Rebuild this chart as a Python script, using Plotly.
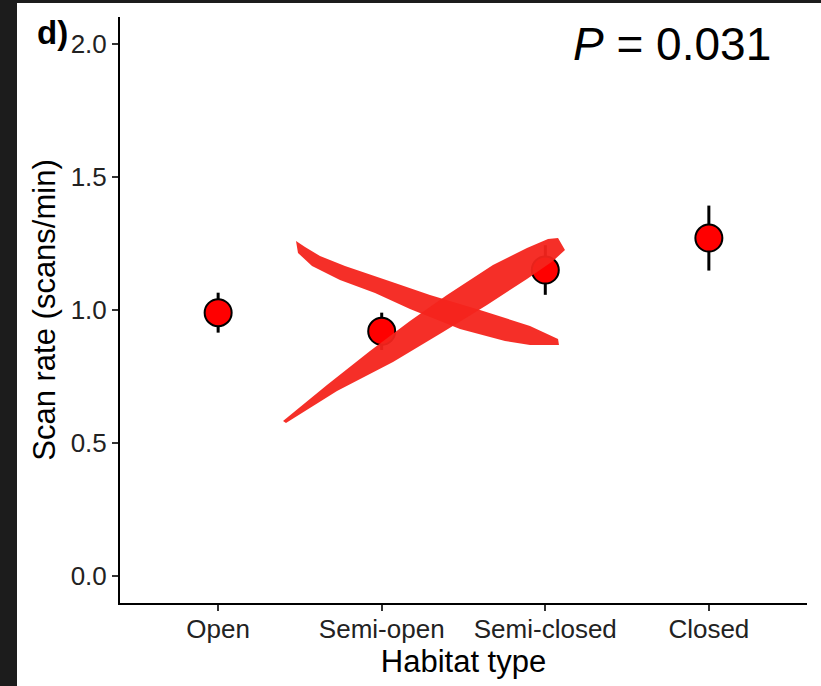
import plotly.graph_objects as go

# ---- data ----
habitats = ["Open", "Semi-open", "Semi-closed", "Closed"]
scan_rate = [0.99, 0.92, 1.15, 1.27]
scan_se = [0.075, 0.07, 0.093, 0.122]
y_ticks = [0.0, 0.5, 1.0, 1.5, 2.0]
p_label = "<i>P</i> = 0.031"
panel_label = "<b>d)</b>"

W, H = 821, 686
ML, MR, MT, MB = 120, 14, 17, 83
PW, PH = W - ML - MR, H - MT - MB


def px(x):
    return (x - ML) / PW


def py(y):
    return (H - MB - y) / PH


def path_from(points):
    s = "M {:.4f} {:.4f}".format(px(points[0][0]), py(points[0][1]))
    for x, y in points[1:]:
        s += " L {:.4f} {:.4f}".format(px(x), py(y))
    return s + " Z"


fig = go.Figure()
fig.add_trace(go.Scatter(
    x=habitats, y=scan_rate, mode="markers",
    error_y=dict(type="data", array=scan_se, visible=True, color="black",
                 thickness=3, width=0),
    marker=dict(color="#ff0000", size=27, line=dict(color="black", width=2)),
    showlegend=False, cliponaxis=False, hoverinfo="skip",
))

# overlay brush-stroke X (decoration drawn on the image)
stroke1 = [(296, 241), (305, 247), (320, 256), (345, 266), (395, 283), (430, 295),
           (480, 310), (530, 326), (558, 339), (559, 345), (530, 345), (505, 341),
           (460, 329), (410, 309), (375, 293), (340, 280), (312, 266), (298, 253)]
stroke2 = [(283, 421), (327, 385), (370, 351), (410, 321), (447, 295), (493, 265),
           (527, 248), (548, 239), (558, 238), (565, 250), (553, 261), (527, 279),
           (487, 305), (443, 332), (393, 362), (337, 391), (286, 423)]

shapes = []
for st in (stroke1, stroke2):
    shapes.append(dict(type="path", xref="paper", yref="paper", path=path_from(st),
                       fillcolor="#f4241c", line=dict(width=0), opacity=0.95,
                       layer="above"))
# dark frame at left and top of the picture
shapes.append(dict(type="rect", xref="paper", yref="paper",
                   x0=px(0), x1=px(17), y0=py(H), y1=py(0),
                   fillcolor="#1c1c1c", line=dict(width=0), layer="above"))
shapes.append(dict(type="rect", xref="paper", yref="paper",
                   x0=px(0), x1=px(W), y0=py(3), y1=py(0),
                   fillcolor="#1c1c1c", line=dict(width=0), layer="above"))

font_family = "Liberation Sans, Arial, sans-serif"

fig.update_layout(
    width=W, height=H,
    margin=dict(l=ML, r=MR, t=MT, b=MB),
    paper_bgcolor="white", plot_bgcolor="white",
    font=dict(family=font_family, color="#222222"),
    shapes=shapes,
    xaxis=dict(
        type="category", range=[-0.6, 3.6],
        showline=True, linecolor="black", linewidth=2,
        ticks="outside", ticklen=6, tickwidth=1.5, tickcolor="#333333",
        tickfont=dict(size=26, color="#222222"), ticklabelstandoff=-4,
        showgrid=False, zeroline=False,
        title=dict(text="Habitat type", font=dict(size=31, color="black"), standoff=2),
    ),
    yaxis=dict(
        range=[-0.1, 2.1], tickvals=y_ticks, tickformat=".1f",
        showline=True, linecolor="black", linewidth=2,
        ticks="outside", ticklen=6, tickwidth=1.5, tickcolor="#333333",
        tickfont=dict(size=26, color="#222222"),
        showgrid=False, zeroline=False,
        title=dict(text="Scan rate (scans/min)", font=dict(size=31, color="black"), standoff=6),
    ),
    annotations=[
        dict(text=p_label, xref="paper", yref="paper", x=px(672), y=py(44),
             xanchor="center", yanchor="middle", showarrow=False,
             font=dict(size=46, color="black", family=font_family)),
        dict(text=panel_label, xref="paper", yref="paper", x=px(35), y=py(33),
             xanchor="left", yanchor="middle", showarrow=False,
             font=dict(size=33, color="black", family=font_family)),
    ],
)

fig.write_html("out.html", config={"displayModeBar": False},
               post_script="document.body.style.margin='0px';document.body.style.overflow='hidden';")
